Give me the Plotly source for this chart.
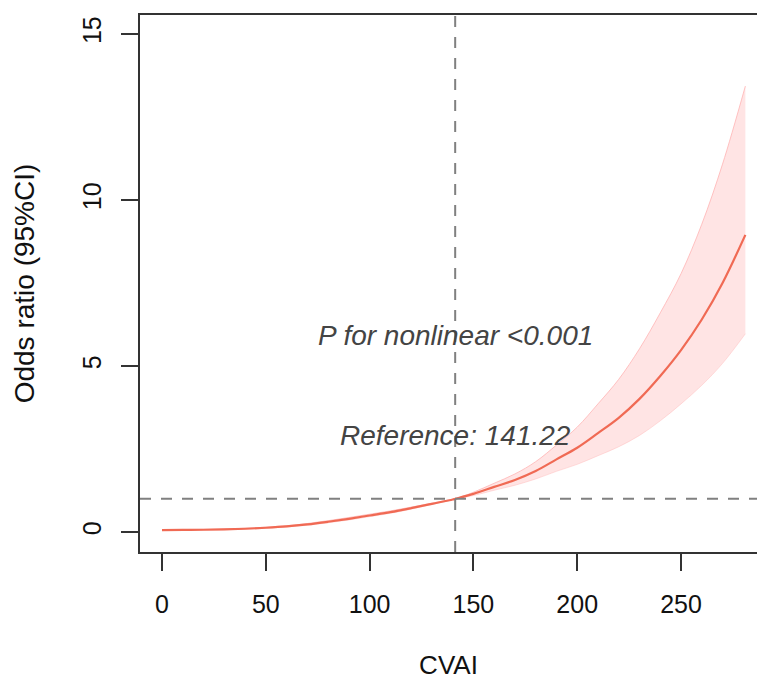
import plotly.graph_objects as go

# ---- data ----
cvai = [0, 10, 20, 30, 40, 50, 60, 70, 80, 90, 100, 110, 120, 130, 140, 141.22,
        150, 160, 170, 180, 190, 200, 210, 220, 230, 240, 250, 260, 270, 281]
odds_ratio = [0.06, 0.065, 0.07, 0.08, 0.10, 0.13, 0.17, 0.23, 0.31, 0.40, 0.50, 0.60, 0.72, 0.85, 0.98, 1.00,
              1.15, 1.36, 1.57, 1.84, 2.19, 2.54, 2.98, 3.44, 4.01, 4.70, 5.48, 6.40, 7.50, 8.95]
ci_lower = [0.05, 0.055, 0.06, 0.07, 0.088, 0.115, 0.152, 0.205, 0.28, 0.365, 0.465, 0.565, 0.69, 0.83, 0.975, 1.00,
            1.10, 1.26, 1.41, 1.60, 1.83, 2.04, 2.30, 2.57, 2.91, 3.35, 3.86, 4.42, 5.08, 5.97]
ci_upper = [0.07, 0.076, 0.082, 0.092, 0.114, 0.147, 0.19, 0.258, 0.343, 0.438, 0.538, 0.637, 0.751, 0.871, 0.985, 1.00,
            1.20, 1.47, 1.75, 2.12, 2.62, 3.16, 3.86, 4.60, 5.52, 6.60, 7.78, 9.27, 11.08, 13.43]

reference_value = 141.22
null_or = 1
x_ticks = [0, 50, 100, 150, 200, 250]
y_ticks = [0, 5, 10, 15]
p_text = "P for nonlinear <0.001"
ref_text = "Reference: 141.22"
x_title = "CVAI"
y_title = "Odds ratio (95%CI)"

FONT = "Liberation Sans, Arial, sans-serif"
LINE_COL = "#F06A54"
BAND_COL = "rgba(255,205,205,0.55)"
DASH_COL = "#808080"
AXIS_COL = "#333333"

fig = go.Figure()

fig.add_trace(go.Scatter(x=cvai, y=ci_lower, mode="lines",
                         line=dict(color="rgba(255,190,190,0.5)", width=1, shape="spline"),
                         showlegend=False, hoverinfo="skip"))
fig.add_trace(go.Scatter(x=cvai, y=ci_upper, mode="lines", fill="tonexty",
                         fillcolor=BAND_COL,
                         line=dict(color="rgba(255,180,180,0.8)", width=1, shape="spline"),
                         showlegend=False, hoverinfo="skip"))
fig.add_trace(go.Scatter(x=cvai, y=odds_ratio, mode="lines",
                         line=dict(color=LINE_COL, width=2.2, shape="spline"),
                         showlegend=False))

fig.add_shape(type="line", xref="x", yref="paper", x0=reference_value, x1=reference_value,
              y0=0, y1=1, line=dict(color=DASH_COL, width=2, dash="11px,10px"))
fig.add_shape(type="line", xref="paper", yref="y", x0=0, x1=1,
              y0=null_or, y1=null_or, line=dict(color=DASH_COL, width=2, dash="11px,10px"))

fig.add_annotation(x=reference_value, y=5.93, text=p_text, showarrow=False,
                   xanchor="center", yanchor="middle",
                   font=dict(family=FONT, size=28, color="#444444", style="italic"))
fig.add_annotation(x=reference_value, y=2.92, text=ref_text, showarrow=False,
                   xanchor="center", yanchor="middle",
                   font=dict(family=FONT, size=28, color="#444444", style="italic"))

fig.update_layout(
    width=757, height=680,
    margin=dict(l=140, r=0, t=15, b=128),
    paper_bgcolor="white", plot_bgcolor="white",
    font=dict(family=FONT, size=25, color="#111111"),
)
fig.update_xaxes(
    range=[-10.6, 286.6], tickvals=x_ticks, ticktext=[str(v) for v in x_ticks],
    showgrid=False, zeroline=False,
    showline=True, linecolor=AXIS_COL, linewidth=2, mirror=True,
    ticks="outside", ticklen=17, tickwidth=2, tickcolor=AXIS_COL,
    ticklabelstandoff=12,
    title=dict(text=x_title, font=dict(family=FONT, size=26, color="#111111"), standoff=43),
)
fig.update_yaxes(
    range=[-0.6, 15.57], tickvals=y_ticks, ticktext=[str(v) for v in y_ticks],
    tickangle=-90,
    showgrid=False, zeroline=False,
    showline=True, linecolor=AXIS_COL, linewidth=2, mirror=False,
    ticks="outside", ticklen=17, tickwidth=2, tickcolor=AXIS_COL,
    ticklabelstandoff=10,
    title=dict(text=y_title, font=dict(family=FONT, size=28, color="#111111"), standoff=35),
)

fig.write_html(
    "out.html",
    config={"displayModeBar": False},
    post_script="document.body.style.margin='0';document.body.style.overflow='hidden';",
)
